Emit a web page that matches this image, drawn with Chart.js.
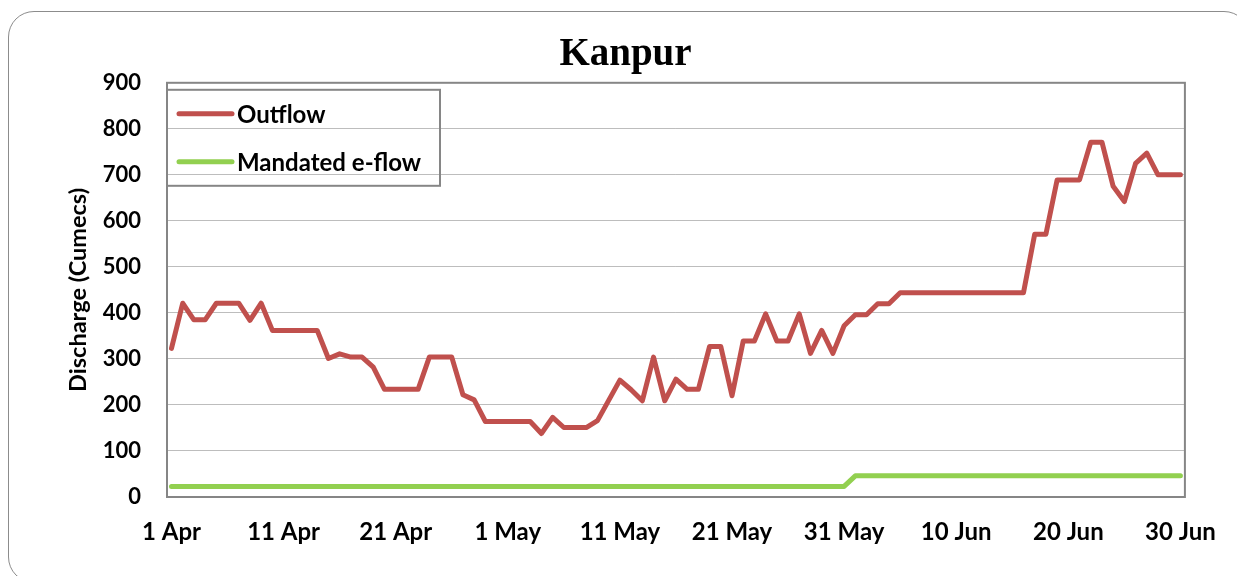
<!DOCTYPE html>
<html>
<head>
<meta charset="utf-8">
<script src="https://cdn.jsdelivr.net/npm/chart.js@4.4.1/dist/chart.umd.min.js"></script>
<style>
  html, body { margin: 0; padding: 0; background: #fff; overflow: hidden; }
  #frame {
    position: absolute; left: 8px; top: 11px; width: 1240px; height: 570px;
    border: 1.5px solid #8c8c8c; border-radius: 26px;
  }
  #wrap { position: absolute; left: 0; top: 0; width: 1237px; height: 576px; }
</style>
</head>
<body>
<div id="frame"></div>
<div id="wrap"><canvas id="grafica" width="1237" height="576"></canvas></div>
<script>
// valores, 1 Apr (dia 0) a 30 Jun (dia 90)
var outflow = [
  323, 421, 385, 385, 421, 421, 421, 384, 421, 362,
  362, 362, 362, 362, 301, 311, 304, 304, 282, 234,
  234, 234, 234, 304, 304, 304, 222, 211, 164, 164,
  164, 164, 164, 138, 173, 151, 151, 151, 166, 210,
  254, 233, 209, 304, 209, 256, 234, 234, 327, 327,
  220, 339, 339, 398, 339, 339, 398, 312, 362, 312,
  372, 396, 396, 420, 420, 444, 444, 444, 444, 444,
  444, 444, 444, 444, 444, 444, 444, 571, 571, 689,
  689, 689, 771, 771, 675, 642, 725, 747, 700, 700,
  700
];
var eflow = [
  23, 23, 23, 23, 23, 23, 23, 23, 23, 23,
  23, 23, 23, 23, 23, 23, 23, 23, 23, 23,
  23, 23, 23, 23, 23, 23, 23, 23, 23, 23,
  23, 23, 23, 23, 23, 23, 23, 23, 23, 23,
  23, 23, 23, 23, 23, 23, 23, 23, 23, 23,
  23, 23, 23, 23, 23, 23, 23, 23, 23, 23,
  23, 46, 46, 46, 46, 46, 46, 46, 46, 46,
  46, 46, 46, 46, 46, 46, 46, 46, 46, 46,
  46, 46, 46, 46, 46, 46, 46, 46, 46, 46,
  46
];
var tickDays = [0, 10, 20, 30, 40, 50, 60, 70, 80, 90];
var tickLabels = ['1 Apr', '11 Apr', '21 Apr', '1 May', '11 May', '21 May', '31 May', '10 Jun', '20 Jun', '30 Jun'];

function puntos(valores) {
  var res = [];
  for (var i = 0; i < valores.length; i++) {
    res.push({ x: i, y: valores[i] });
  }
  return res;
}

var fuente = "Lato, 'Open Sans', sans-serif";

// borde del area de trazado
var bordeArea = {
  id: 'bordeArea',
  afterDatasetsDraw: function(chart) {
    var a = chart.chartArea;
    var ctx = chart.ctx;
    ctx.save();
    ctx.strokeStyle = '#868686';
    ctx.lineWidth = 2;
    ctx.strokeRect(a.left, a.top, a.right - a.left, a.bottom - a.top);
    ctx.restore();
  }
};

// leyenda con recuadro dentro del area
var leyenda = {
  id: 'leyenda',
  afterDraw: function(chart) {
    var a = chart.chartArea;
    var ctx = chart.ctx;
    var x0 = a.left, y0 = a.top + 7;
    ctx.save();
    ctx.strokeStyle = '#868686';
    ctx.lineWidth = 2;
    ctx.strokeRect(x0, y0, 273, 96);
    ctx.font = 'bold 24px ' + fuente;
    ctx.textBaseline = 'middle';
    chart.data.datasets.forEach(function(ds, i) {
      var y = y0 + 24 + i * 48;
      ctx.strokeStyle = ds.borderColor;
      ctx.lineWidth = 5;
      ctx.lineCap = 'round';
      ctx.beginPath();
      ctx.moveTo(x0 + 12, y);
      ctx.lineTo(x0 + 65, y);
      ctx.stroke();
      ctx.fillStyle = '#000';
      ctx.fillText(ds.label, x0 + 70, y + 1);
    });
    ctx.restore();
  }
};

window.onload = function() {
  var ctx = document.getElementById('grafica').getContext('2d');
  var myChart = new Chart(ctx, {
    type: 'line',
    data: {
      datasets: [{
        label: 'Outflow',
        borderColor: '#c0504d',
        borderWidth: 5,
        data: puntos(outflow)
      }, {
        label: 'Mandated e-flow',
        borderColor: '#92d050',
        borderWidth: 5,
        data: puntos(eflow)
      }]
    },
    options: {
      responsive: false,
      animation: false,
      devicePixelRatio: 1,
      elements: {
        point: { radius: 0 },
        line: { tension: 0, borderCapStyle: 'round', borderJoinStyle: 'round' }
      },
      layout: { padding: { left: 64, right: 50, top: 0, bottom: 0 } },
      plugins: {
        legend: { display: false },
        tooltip: { enabled: false },
        title: {
          display: true,
          text: 'Kanpur',
          color: '#000',
          font: { family: "'Liberation Serif', serif", size: 39, weight: 'bold' },
          padding: { top: 32, bottom: 4 }
        }
      },
      scales: {
        x: {
          type: 'linear',
          min: -0.4,
          max: 90.4,
          afterBuildTicks: function(scale) {
            scale.ticks = tickDays.map(function(d) { return { value: d }; });
          },
          afterFit: function(scale) { scale.height = 79; },
          grid: { display: false, drawTicks: false },
          border: { display: false },
          ticks: {
            color: '#000',
            padding: 21,
            maxRotation: 0,
            autoSkip: false,
            font: { family: fuente, size: 24, weight: 'bold' },
            callback: function(value) {
              var i = tickDays.indexOf(value);
              return i >= 0 ? tickLabels[i] : '';
            }
          }
        },
        y: {
          min: 0,
          max: 900,
          afterFit: function(scale) { scale.width = 103; },
          grid: { color: '#bdbdbd', lineWidth: 1, drawTicks: false },
          border: { display: false },
          ticks: {
            stepSize: 100,
            color: '#000',
            padding: 26,
            font: { family: fuente, size: 22, weight: 'bold' }
          },
          title: {
            display: true,
            text: 'Discharge (Cumecs)',
            color: '#000',
            padding: { top: 0, bottom: 0 },
            font: { family: fuente, size: 23.5, weight: 'bold' }
          }
        }
      }
    },
    plugins: [bordeArea, leyenda]
  });
};
</script>
</body>
</html>
